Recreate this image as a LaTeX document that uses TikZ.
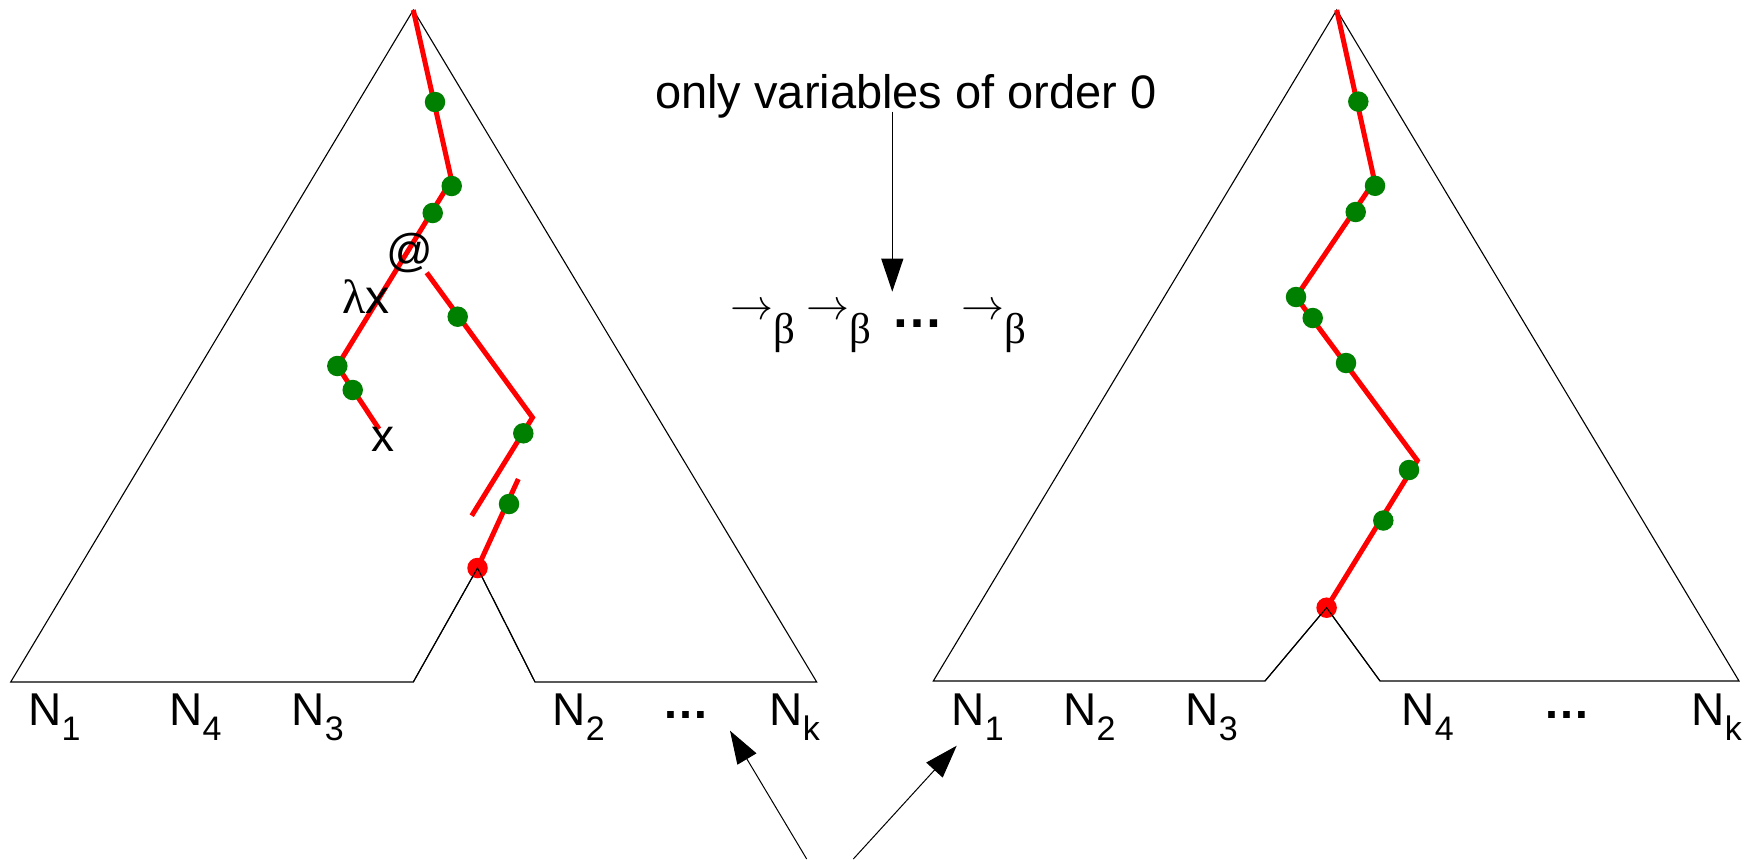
\documentclass[tikz,border=0pt]{standalone}
\usepackage{fontspec}
\setmainfont{Liberation Sans}
\newfontfamily\grfont{Liberation Serif}
\usetikzlibrary{arrows.meta}
\definecolor{dotgreen}{RGB}{0,128,0}
\definecolor{pathred}{RGB}{255,0,0}
\newcommand{\Nlab}[1]{N\raisebox{-15pt}{\fontsize{34}{34}\selectfont #1}}
\newcommand{\bigarrow}{\scalebox{4.3}{\fontsize{10}{12}\selectfont$\rightarrow$}}
\newcommand{\betastep}{\bigarrow\raisebox{-24pt}{\grfont β}}
\begin{document}
\begin{tikzpicture}[x=1pt,y=-1pt,
  tri/.style={draw=black, line width=1.1pt, line join=miter},
  redpath/.style={draw=pathred, line width=5pt},
  gdot/.style={circle, fill=dotgreen, inner sep=0pt, minimum size=20.5pt},
  rdot/.style={circle, fill=pathred, inner sep=0pt, minimum size=20.5pt},
  txt/.style={inner sep=0pt, font=\fontsize{46}{50}\selectfont},
  lab/.style={inner sep=0pt, anchor=base west, font=\fontsize{46}{50}\selectfont},
  betalab/.style={inner sep=0pt, anchor=base west, font=\fontsize{43}{45}\selectfont},
  arr/.style={draw=black, line width=1pt, -{Triangle[length=33pt,width=22pt]}}]
\useasboundingbox (0,0) rectangle (1744,859);

% ---------- left tree ----------
\coordinate (LA) at (413.3,10);
\draw[tri] (LA) -- (10.7,682) -- (413.3,682) -- (477.5,568) -- (535,682) -- (816.7,682) -- cycle;
\coordinate (L1) at (451.5,180);
\coordinate (L2) at (337.3,366);
\coordinate (L3) at (379,429);
\coordinate (LB0) at (426.7,272.7);
\coordinate (LB1) at (532.5,417.5);
\coordinate (LB2) at (471.7,515.7);
\coordinate (LC0) at (518.3,479);
\coordinate (LR) at (477.5,568);
\draw[redpath] (LA) -- (L1) -- (L2) -- (L3);
\draw[redpath] (LB0) -- (LB1) -- (LB2);
\draw[redpath] (LC0) -- (LR);
\node[gdot] (lg1) at (435,102) {};
\node[gdot] (lg2) at (451.7,186) {};
\node[gdot] (lg3) at (432.7,213) {};
\node[gdot] (lg4) at (457.7,316.7) {};
\node[gdot] (lg5) at (337.3,366) {};
\node[gdot] (lg6) at (352.7,390) {};
\node[gdot] (lg7) at (523.3,433.3) {};
\node[gdot] (lg8) at (509,504) {};
\node[rdot] (lr) at (LR) {};
\draw[black, line width=1.1pt] (413.3,682) -- (LR) -- (535,682);

\node[txt, anchor=base] (at) at (410,266) {@};
\node[lab, font=\fontsize{48}{50}\selectfont] (lamx) at (342,313.3) {{\grfont λ}x};
\node[txt, anchor=base] (xv) at (382.5,451.7) {x};

% ---------- right tree ----------
\coordinate (RA) at (1336.7,10);
\draw[tri] (RA) -- (933.3,681) -- (1265,681) -- (1326.5,607.7) -- (1380,681) -- (1739,681) -- cycle;
\coordinate (R1) at (1374.5,181);
\coordinate (R2) at (1296,297);
\coordinate (R3) at (1417.3,460.5);
\coordinate (RR) at (1326.6,607.7);
\draw[redpath] (RA) -- (R1) -- (R2) -- (R3) -- (RR);
\node[gdot] (rg1) at (1358.3,101.6) {};
\node[gdot] (rg2) at (1375,185.8) {};
\node[gdot] (rg3) at (1355.7,212) {};
\node[gdot] (rg4) at (1296,297) {};
\node[gdot] (rg5) at (1312.7,318) {};
\node[gdot] (rg6) at (1346,363) {};
\node[gdot] (rg7) at (1409,470) {};
\node[gdot] (rg8) at (1383.3,520.5) {};
\node[rdot] (rr) at (RR) {};
\draw[black, line width=1.1pt] (1265,681) -- (RR) -- (1380,681);

% ---------- bottom labels ----------
\node[lab] (ln1) at (28.2,725.5) {\Nlab{1}};
\node[lab] (ln4) at (169.2,725.5) {\Nlab{4}};
\node[lab] (ln3) at (291.5,725.5) {\Nlab{3}};
\node[lab] (ln2) at (552.5,725.5) {\Nlab{2}};
\node[txt, anchor=base, font=\fontsize{47}{50}\selectfont\bfseries] (ldots) at (686,718.5) {…};
\node[lab] (lnk) at (769.5,725.5) {\Nlab{k}};

\node[lab] (rn1) at (951.5,725.5) {\Nlab{1}};
\node[lab] (rn2) at (1063.2,725.5) {\Nlab{2}};
\node[lab] (rn3) at (1185.5,725.5) {\Nlab{3}};
\node[lab] (rn4) at (1401.5,725.5) {\Nlab{4}};
\node[txt, anchor=base, font=\fontsize{47}{50}\selectfont\bfseries] (rdots) at (1566.5,718.5) {…};
\node[lab] (rnk) at (1691.5,725.5) {\Nlab{k}};

% ---------- middle ----------
\node[txt, anchor=base, font=\fontsize{47}{50}\selectfont] (ovar) at (906,108.3) {only variables of order 0};
\node[betalab] (b1) at (730,319) {\betastep};
\node[betalab] (b2) at (806,319) {\betastep};
\node[txt, anchor=base, font=\fontsize{52}{55}\selectfont\bfseries] (mdots) at (917.5,327) {…};
\node[betalab] (b3) at (961,319) {\betastep};

\coordinate (ta) at (892.3,111.7);
\coordinate (tb) at (892.3,291.7);
\draw[arr] (ta) -- (tb);

\coordinate (ba) at (806.7,859);
\coordinate (bat) at (730,730.7);
\coordinate (bb) at (853.3,859);
\coordinate (bbt) at (956.7,745.7);
\draw[arr] (ba) -- (bat);
\draw[arr] (bb) -- (bbt);
\end{tikzpicture}
\end{document}
